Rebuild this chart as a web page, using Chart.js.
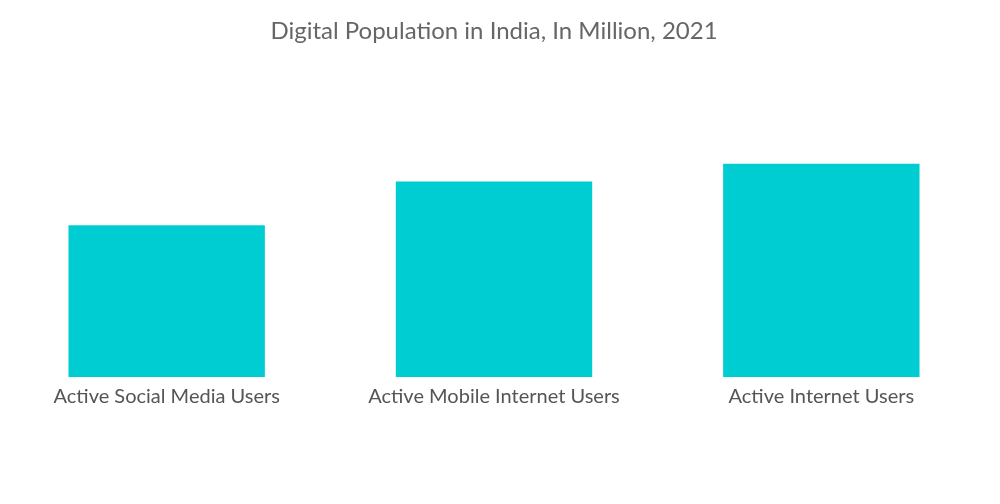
<!DOCTYPE html>
<html>
<head>
<meta charset="utf-8">
<script src="https://cdn.jsdelivr.net/npm/chart.js@4/dist/chart.umd.min.js"></script>
<style>
    html, body { margin: 0; padding: 0; background: #fff; }
    #wrap { width: 1000px; height: 504px; }
</style>
</head>
<body>
<div id="wrap"><canvas id="digitalChart"></canvas></div>
<script>
// --- Datos del gráfico ---
const categorias = ['Active Social Media Users', 'Active Mobile Internet Users', 'Active Internet Users'];
const usuarios = [444, 572, 624]; // millones
const tituloGrafico = 'Digital Population in India, In Million, 2021';

const ctx = document.getElementById('digitalChart').getContext('2d');
new Chart(ctx, {
    type: 'bar',
    data: {
        labels: categorias,
        datasets: [{
            data: usuarios,
            backgroundColor: '#00cdd1',
            borderWidth: 0,
            barPercentage: 0.6,
            categoryPercentage: 1.0
        }]
    },
    options: {
        responsive: true,
        maintainAspectRatio: false,
        animation: false,
        layout: { padding: { left: 3, right: 15, top: 0, bottom: 87 } },
        plugins: {
            legend: { display: false },
            tooltip: { enabled: false },
            title: {
                display: true,
                text: tituloGrafico,
                color: '#666666',
                font: { family: 'Lato', size: 24, weight: 'normal' },
                padding: { top: 17, bottom: 92 }
            }
        },
        scales: {
            x: {
                grid: { display: false, drawTicks: false },
                border: { display: false },
                ticks: {
                    color: '#555555',
                    padding: 8,
                    maxRotation: 0,
                    font: { family: 'Lato', size: 20 }
                }
            },
            y: {
                display: false,
                min: 0,
                max: 700
            }
        }
    }
});
</script>
</body>
</html>
